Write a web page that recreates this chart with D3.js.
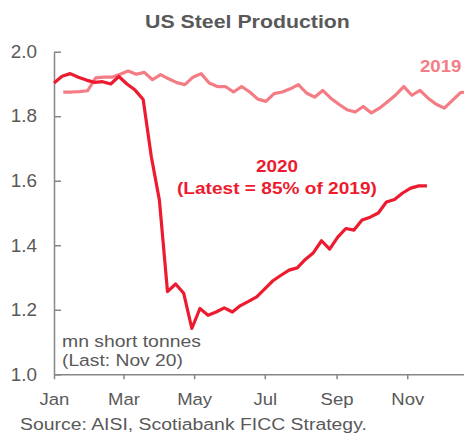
<!DOCTYPE html>
<html>
<head>
<meta charset="utf-8">
<script src="https://cdn.jsdelivr.net/npm/d3@7"></script>
<style>
  html, body { margin: 0; padding: 0; background: #fff; }
  svg { display: block; font-family: Arial, "Liberation Sans", sans-serif; }
</style>
</head>
<body>
<svg id="chart" width="464" height="433"></svg>
<script>
// Weekly raw steel production, mn short tonnes
const prod2020 = [
  1.903, 1.924, 1.932, 1.921, 1.912, 1.905, 1.907, 1.900, 1.923, 1.900,
  1.881, 1.852, 1.675, 1.540, 1.256, 1.280, 1.251, 1.142, 1.204, 1.183,
  1.193, 1.206, 1.193, 1.213, 1.226, 1.240, 1.265, 1.290, 1.307, 1.323,
  1.330, 1.356, 1.377, 1.414, 1.388, 1.425, 1.452, 1.447, 1.478, 1.487,
  1.500, 1.534, 1.542, 1.562, 1.577, 1.584, 1.584
];
// 2019 series begins with the second week of the year
const prod2019 = [
  1.875, 1.875, 1.876, 1.879, 1.919, 1.921, 1.921, 1.930, 1.940, 1.930,
  1.936, 1.913, 1.929, 1.916, 1.904, 1.898, 1.921, 1.932, 1.903, 1.892,
  1.892, 1.875, 1.892, 1.875, 1.853, 1.846, 1.870, 1.875, 1.885, 1.898,
  1.872, 1.859, 1.880, 1.856, 1.837, 1.820, 1.813, 1.830, 1.810, 1.825,
  1.845, 1.866, 1.892, 1.865, 1.880, 1.856, 1.837, 1.825, 1.849, 1.873,
  1.876
];
const monthTicks = ["Jan", "Mar", "May", "Jul", "Sep", "Nov"];
const yTicks = [1.0, 1.2, 1.4, 1.6, 1.8, 2.0];

// week index -> date on the 2020 calendar
const wk2020 = i => new Date(2020, 0, 1 + 7 * i);
const wk2019 = i => new Date(2020, 0, 2 + 7 * (i + 1));

const svg = d3.select("#chart");
const textGray = "#595959";
const axisGray = "#868686";
const red = "#ED1B2F";
const pink = "#F47C84";

const x = d3.scaleTime()
  .domain([new Date(2020, 0, 1), new Date(2020, 11, 20)])
  .range([54, 464]);
const y = d3.scaleLinear().domain([1.0, 2.0]).range([374.3, 51.7]);

const monthIndex = { Jan: 0, Mar: 2, May: 4, Jul: 6, Sep: 8, Nov: 10 };
const xTickDates = monthTicks.map(m => new Date(2020, monthIndex[m], 1));

// helper: left-aligned text, widened horizontally to a given width
function label(x0, y0, width, size, weight, color, str) {
  const t = svg.append("text")
    .attr("x", 0).attr("y", 0)
    .attr("font-size", size).attr("font-weight", weight)
    .attr("fill", color)
    .text(str);
  const natural = t.node().getComputedTextLength() || width;
  t.attr("transform", `translate(${x0},${y0}) scale(${width / natural},1)`);
  return t;
}

// title
label(145, 28, 205, 18.5, "bold", textGray, "US Steel Production");

// x axis
const gx = svg.append("g")
  .attr("transform", `translate(0,${y(1.0)})`)
  .call(d3.axisBottom(x)
    .tickValues(xTickDates)
    .tickFormat(d3.timeFormat("%b"))
    .tickSizeInner(5).tickSizeOuter(0).tickPadding(14));

// y axis
const gy = svg.append("g")
  .attr("transform", `translate(${x(new Date(2020, 0, 1))},0)`)
  .call(d3.axisLeft(y)
    .tickValues(yTicks)
    .tickFormat(d3.format(".1f"))
    .tickSizeInner(-7).tickSizeOuter(0).tickPadding(17));

[gx, gy].forEach(g => {
  g.select(".domain").attr("stroke", axisGray).attr("stroke-width", 1.5);
  g.selectAll(".tick line").attr("stroke", axisGray).attr("stroke-width", 1.5);
  g.selectAll(".tick text")
    .attr("fill", textGray)
    .attr("font-family", "Arial, 'Liberation Sans', sans-serif");
});
gx.selectAll(".tick text")
  .attr("font-size", 17)
  .attr("transform", "scale(1.09,1)");
gy.selectAll(".tick text")
  .attr("font-size", 18)
  .attr("transform", function () {
    const tx = +d3.select(this).attr("x");
    d3.select(this).attr("x", 0);
    return `translate(${tx},0) scale(1.05,1)`;
  });

// lines
const line = d3.line().x(d => x(d.date)).y(d => y(d.value));
const data2019 = prod2019.map((v, i) => ({ date: wk2019(i), value: v }));
const data2020 = prod2020.map((v, i) => ({ date: wk2020(i), value: v }));

svg.append("path")
  .datum(data2019)
  .attr("d", line)
  .attr("fill", "none")
  .attr("stroke", pink)
  .attr("stroke-width", 3.2)
  .attr("stroke-linejoin", "round");

svg.append("path")
  .datum(data2020)
  .attr("d", line)
  .attr("fill", "none")
  .attr("stroke", red)
  .attr("stroke-width", 3.2)
  .attr("stroke-linejoin", "round");

// series labels
label(420, 71.5, 41.5, 17, "bold", pink, "2019");
label(256, 171.5, 42, 16.5, "bold", red, "2020");
label(177, 193.5, 200, 17, "bold", red, "(Latest = 85% of 2019)");

// units note
label(62, 346.5, 139, 17, "normal", textGray, "mn short tonnes");
label(62, 366, 121, 17, "normal", textGray, "(Last: Nov 20)");

// source
label(20, 430, 347, 17, "normal", textGray, "Source: AISI, Scotiabank FICC Strategy.");
</script>
</body>
</html>
